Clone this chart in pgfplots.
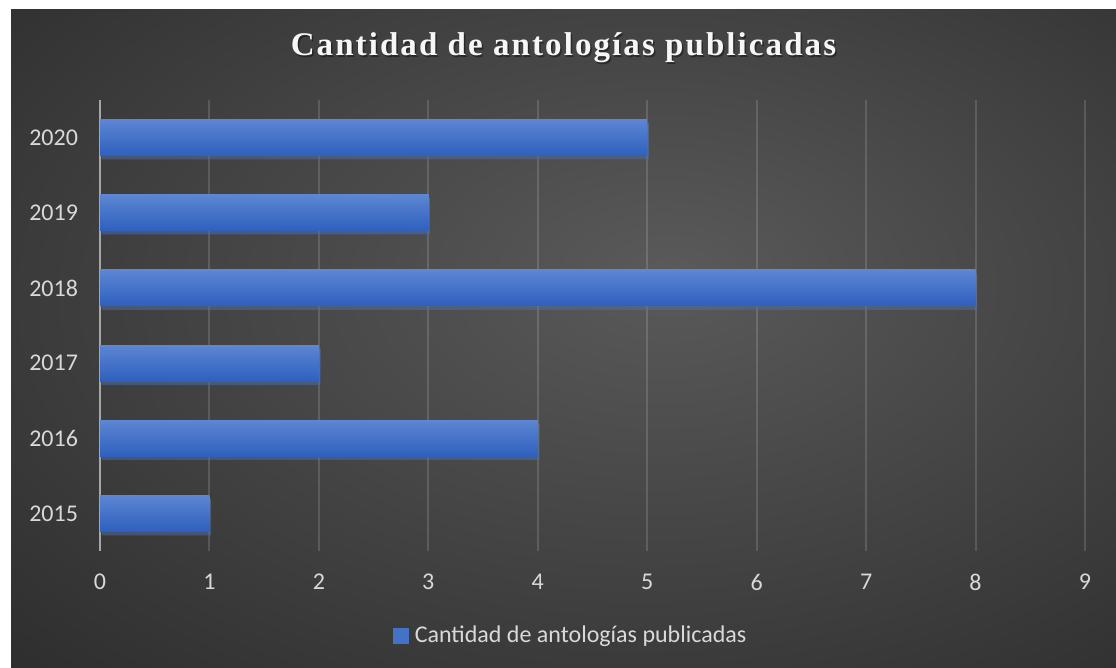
\documentclass[border=0pt]{standalone}
\usepackage{fontspec}
\setmainfont{Carlito}
\newfontfamily\titlefont{Liberation Serif}[LetterSpace=6.3]
\usepackage{pgfplots}
\pgfplotsset{compat=1.18}
\usetikzlibrary{shadows}
\definecolor{bgin}{HTML}{5A5A5A}
\definecolor{bgout}{HTML}{242424}
\definecolor{barTop}{HTML}{5D86D3}
\definecolor{barBot}{HTML}{2E60BE}
\definecolor{barMid}{HTML}{4472C4}
\definecolor{lbl}{HTML}{D9D9D9}
\definecolor{yline}{HTML}{A6A6A6}
\pgfdeclareradialshading{bgshade}{\pgfpoint{5bp}{5bp}}{color(0bp)=(bgin); color(48bp)=(bgout); color(80bp)=(bgout)}
\pgfplotsset{
  barstyle/.style={draw=none, top color=barTop, bottom color=barBot, bar shift=0pt, forget plot,
    drop shadow={shadow xshift=0.8pt, shadow yshift=-1.8pt, opacity=0.3}},
}
\begin{document}
\begin{tikzpicture}[x=0.5pt,y=0.5pt]
\fill[white] (0,0) rectangle (1116,668);
\shade[shading=bgshade] (11,0) rectangle (1116,658);
\node[font=\titlefont\bfseries\fontsize{16.5}{20}\selectfont, text=black, opacity=0.4] at (565,618.2) {Cantidad de antologías publicadas};
\node[font=\titlefont\bfseries\fontsize{16.5}{20}\selectfont, text=white!93!gray] at (563.5,620) {Cantidad de antologías publicadas};
\begin{axis}[
  at={(50pt,58.5pt)}, anchor=south west,
  scale only axis, width=492.5pt, height=225.5pt,
  xbar, bar width=18pt,
  xmin=0, xmax=9, ymin=-0.5, ymax=5.5,
  ytick={0,1,2,3,4,5},
  yticklabels={2015,2016,2017,2018,2019,2020},
  xtick={0,1,2,3,4,5,6,7,8,9},
  /pgf/number format/assume math mode=true,
  major tick length=0pt,
  axis lines*=left,
  x axis line style={draw=none},
  y axis line style={draw=yline, line width=1pt, -},
  xmajorgrids,
  grid style={white, opacity=0.14, line width=1pt},
  ticklabel style={text=lbl, font=\fontsize{12}{14}\selectfont},
  yticklabel style={xshift=-7.5pt},
  xticklabel style={yshift=-8pt},
  legend style={at={(0.479,-0.188)}, anchor=center, draw=none, fill=none,
     text=lbl, font=\fontsize{12}{14}\selectfont},
]
\addlegendimage{legend image code/.code={\fill[barMid] (0pt,-3.6pt) rectangle (7.4pt,3.6pt);}}
\addlegendentry{\hspace{1pt}Cantidad de antologías publicadas}
\addplot[barstyle] coordinates {(1,0)};
\addplot[barstyle] coordinates {(4,1)};
\addplot[barstyle] coordinates {(2,2)};
\addplot[barstyle] coordinates {(8,3)};
\addplot[barstyle] coordinates {(3,4)};
\addplot[barstyle] coordinates {(5,5)};
\end{axis}
\end{tikzpicture}
\end{document}
